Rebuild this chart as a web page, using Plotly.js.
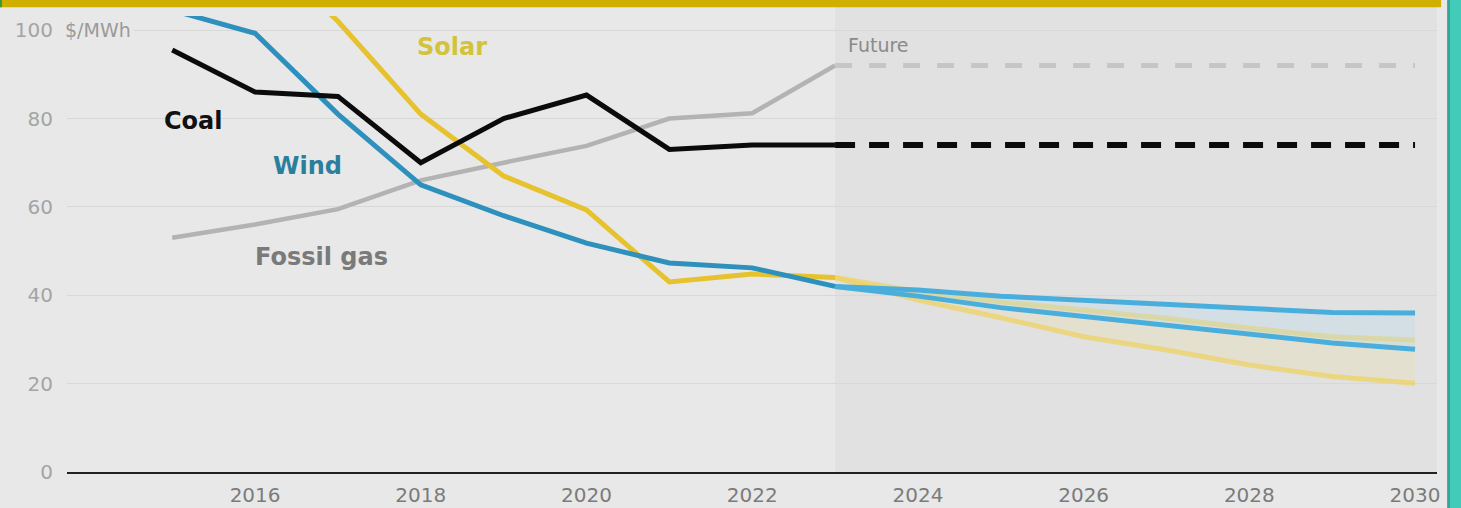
<!DOCTYPE html>
<html>
<head>
<meta charset="utf-8">
<script src="https://cdn.plot.ly/plotly-3.0.1.min.js"></script>
<style>
html,body{margin:0;padding:0;background:#e8e8e8;overflow:hidden;}
#chart{width:1461px;height:508px;}
</style>
</head>
<body>
<div id="chart"></div>
<script>
// ---- data ----
const histYears   = [2015, 2016, 2017, 2018, 2019, 2020, 2021, 2022, 2023];
const coalHist    = [95.5, 86, 85, 70, 80, 85.3, 73, 74, 74];
const gasHist     = [53, 56, 59.5, 66, 70, 73.8, 80, 81.2, 92];
const windHist    = [104.5, 99.3, 81, 65, 58, 51.8, 47.3, 46.2, 42];
const solarYears  = [2016, 2017, 2018, 2019, 2020, 2021, 2022, 2023];
const solarHist   = [120, 102, 81, 67, 59.3, 43, 44.8, 44];

const futYears    = [2023, 2024, 2025, 2026, 2027, 2028, 2029, 2030];
const coalFut     = [74, 74, 74, 74, 74, 74, 74, 74];
const gasFut      = [92, 92, 92, 92, 92, 92, 92, 92];
const windFutHigh = [42, 41.2, 39.8, 38.9, 38.0, 37.1, 36.1, 36.0];
const windFutLow  = [42, 39.8, 37.2, 35.2, 33.3, 31.2, 29.2, 27.8];
const solarFutHigh= [44, 40.8, 38.5, 36.7, 34.8, 32.6, 30.6, 29.9];
const solarFutLow = [44, 38.9, 34.9, 30.6, 27.6, 24.2, 21.6, 20.1];

const xTicks = [2016, 2018, 2020, 2022, 2024, 2026, 2028, 2030];
const yTicks = [0, 20, 40, 60, 80, 100];

const seriesLabels = ["Coal", "Wind", "Solar", "Fossil gas"];
const futureLabel = "Future";
const unitLabel = "$/MWh";

// ---- traces ----
const traces = [
  // solar future band
  {x: futYears, y: solarFutHigh, mode: 'lines', line: {color: 'rgba(238,210,100,0.75)', width: 5}, hoverinfo: 'skip'},
  {x: futYears, y: solarFutLow, mode: 'lines', fill: 'tonexty', fillcolor: 'rgba(240,222,150,0.22)',
   line: {color: 'rgba(238,210,100,0.75)', width: 5}, hoverinfo: 'skip'},
  // wind future band
  {x: futYears, y: windFutHigh, mode: 'lines', line: {color: '#4aaedd', width: 5}, hoverinfo: 'skip'},
  {x: futYears, y: windFutLow, mode: 'lines', fill: 'tonexty', fillcolor: 'rgba(185,220,238,0.35)',
   line: {color: '#4aaedd', width: 5}, hoverinfo: 'skip'},
  // fossil gas
  {x: histYears, y: gasHist, mode: 'lines', line: {color: '#b3b3b3', width: 4.5}},
  {x: futYears, y: gasFut, mode: 'lines', line: {color: '#c6c6c6', width: 5, dash: '17px,17px'}},
  // solar history
  {x: solarYears, y: solarHist, mode: 'lines', line: {color: '#e6c22e', width: 5}},
  // wind history
  {x: histYears, y: windHist, mode: 'lines', line: {color: '#2d90bd', width: 5}},
  // coal
  {x: histYears, y: coalHist, mode: 'lines', line: {color: '#0b0b0b', width: 5}},
  {x: futYears, y: coalFut, mode: 'lines', line: {color: '#0b0b0b', width: 6, dash: '20px,14px'}}
];

const F = 'DejaVu Sans, Roboto, sans-serif';

const layout = {
  width: 1461, height: 508,
  margin: {l: 67, r: 24, t: 16, b: 36, pad: 0},
  paper_bgcolor: '#e8e8e8',
  plot_bgcolor: '#e8e8e8',
  showlegend: false,
  xaxis: {
    range: [2013.73, 2030.265],
    tickvals: xTicks,
    ticktext: xTicks.map(String),
    showgrid: false,
    zeroline: false,
    showline: true, linecolor: '#222', linewidth: 2,
    ticks: '', ticklabelstandoff: 4,
    tickfont: {family: F, size: 20, color: '#7b7b7b'}
  },
  yaxis: {
    range: [0, 103.2],
    tickvals: yTicks,
    ticktext: yTicks.map(String),
    showgrid: true, gridcolor: '#d8d8d8', gridwidth: 1,
    zeroline: false, showline: false,
    ticks: '', ticklabelstandoff: 13,
    tickfont: {family: F, size: 20, color: '#a4a4a4'}
  },
  shapes: [
    // future shaded region
    {type: 'rect', xref: 'x', yref: 'paper', x0: 2023, x1: 2030.265, y0: 0, y1: 1.02,
     fillcolor: '#e1e1e1', line: {width: 0}, layer: 'below'},
    // top banner
    {type: 'rect', xref: 'paper', yref: 'paper', x0: -0.06, x1: 1.003, y0: 1.019, y1: 1.04,
     fillcolor: '#cfb000', line: {width: 0}, layer: 'above'},
    // right teal border
    {type: 'rect', xref: 'paper', yref: 'paper', x0: 1.0075, x1: 1.03, y0: -0.1, y1: 1.04,
     fillcolor: '#42cbb9', line: {width: 0}, layer: 'above'},
    {type: 'rect', xref: 'paper', yref: 'paper', x0: 1.0075, x1: 1.0095, y0: -0.1, y1: 1.04,
     fillcolor: '#36a596', line: {width: 0}, layer: 'above'},
    // small green sliver top-left
    {type: 'rect', xref: 'paper', yref: 'paper', x0: -0.06, x1: -0.0475, y0: 1.019, y1: 1.04,
     fillcolor: '#3a9a3a', line: {width: 0}, layer: 'above'}
  ],
  annotations: [
    {x: 2015.26, y: 79.5, text: '<b>' + seriesLabels[0] + '</b>', showarrow: false,
     font: {family: F, size: 24, color: '#111111'}},
    {x: 2016.63, y: 69.3, text: '<b>' + seriesLabels[1] + '</b>', showarrow: false,
     font: {family: F, size: 24, color: '#2b7f9c'}},
    {x: 2018.38, y: 96.2, text: '<b>' + seriesLabels[2] + '</b>', showarrow: false,
     font: {family: F, size: 24, color: '#d3c33c'}},
    {x: 2016.8, y: 48.6, text: '<b>' + seriesLabels[3] + '</b>', showarrow: false,
     font: {family: F, size: 24, color: '#7a7a7a'}},
    {x: 2023.53, y: 96.7, text: futureLabel, showarrow: false,
     font: {family: F, size: 19, color: '#8a8a8a'}},
    {xref: 'paper', x: -0.004, xanchor: 'left', y: 100, yanchor: 'middle', text: unitLabel, showarrow: false,
     bgcolor: '#e8e8e8', borderpad: 2,
     font: {family: F, size: 19, color: '#9a9a9a'}}
  ]
};

Plotly.newPlot('chart', traces, layout, {displayModeBar: false, staticPlot: true});
</script>
</body>
</html>
